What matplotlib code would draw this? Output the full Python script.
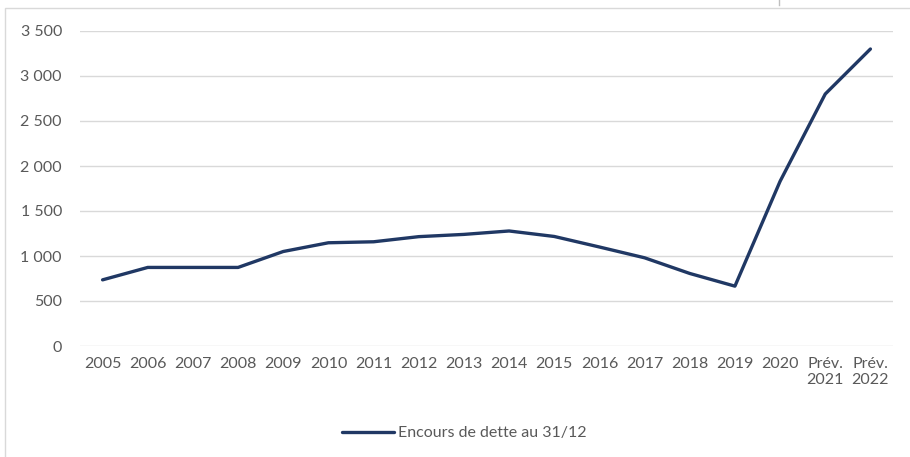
import matplotlib
matplotlib.use("Agg")
import matplotlib.pyplot as plt
from matplotlib.patches import Rectangle
from matplotlib.lines import Line2D

# categories and debt outstanding at 31/12
years = ["2005", "2006", "2007", "2008", "2009", "2010", "2011", "2012", "2013",
         "2014", "2015", "2016", "2017", "2018", "2019", "2020",
         "Prév.\n2021", "Prév.\n2022"]
encours = [735, 873, 873, 873, 1050, 1147, 1158, 1215, 1240,
           1278, 1217, 1100, 980, 806, 665, 1830, 2800, 3300]
yticks = [0, 500, 1000, 1500, 2000, 2500, 3000, 3500]

plt.rcParams['font.family'] = ['Lato', 'DejaVu Sans']

fig = plt.figure(figsize=(9.1, 4.57), dpi=100)
ax = fig.add_axes([80/910, 1 - 346/457, 813/910, 315/457])

x = range(len(years))
ax.plot(x, encours, color="#203864", lw=2.4, solid_capstyle="round",
        label="Encours de dette au 31/12")

ax.set_xlim(-0.5, len(years) - 0.5)
ax.set_ylim(0, 3500)
ax.set_yticks(yticks)
ax.set_yticklabels(["{:,}".format(v).replace(",", " ") for v in yticks])
ax.set_xticks(list(x))
ax.set_xticklabels(years)
ax.grid(axis="y", color="#d9d9d9", lw=1)
ax.set_axisbelow(True)
for s in ax.spines.values():
    s.set_visible(False)
ax.tick_params(length=0, labelsize=11.5, colors="#595959")
ax.tick_params(axis="y", pad=13)
ax.tick_params(axis="x", pad=8)

leg = fig.legend(loc="center", bbox_to_anchor=(464/910, 1 - 433/457), frameon=False,
                 fontsize=11.5, handlelength=3.3, handletextpad=0.2)
for t in leg.get_texts():
    t.set_color("#595959")

# chart frame
fig.patches.append(Rectangle((5/910, -0.05), 1.0, 1.05 - 8/457, transform=fig.transFigure,
                             fill=False, ec="#d9d9d9", lw=1))
fig.lines.append(Line2D([779/910, 779/910], [1, 1 - 5/457], transform=fig.transFigure,
                        color="#bfbfbf", lw=1))

fig.savefig("out.png", dpi=100)
